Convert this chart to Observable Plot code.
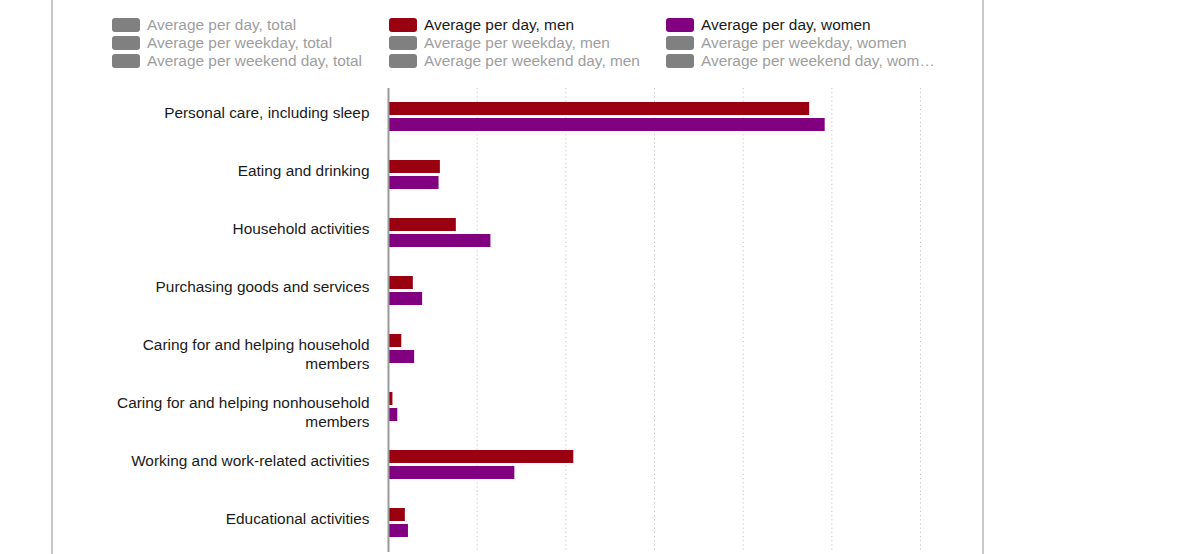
<!DOCTYPE html>
<html>
<head>
<meta charset="utf-8">
<script src="https://cdn.jsdelivr.net/npm/d3@7"></script>
<script src="https://cdn.jsdelivr.net/npm/@observablehq/plot@0.6"></script>
<style>
  html, body { margin: 0; padding: 0; background: #fff; }
  #wrap { position: relative; width: 1200px; height: 554px; overflow: hidden; font-family: Arial, "Liberation Sans", sans-serif; }
  #frame { position: absolute; left: 51px; top: 0; width: 929px; height: 554px; border-left: 2px solid #c8c8c8; border-right: 2px solid #c8c8c8; pointer-events: none; }
  #legend { position: relative; width: 1200px; height: 82px; }
  .item { position: absolute; display: flex; align-items: center; height: 18px; font-size: 15.4px; white-space: nowrap; }
  .sw { width: 28px; height: 14px; border-radius: 3px; margin-right: 7px; flex: none; }
  #chart { position: relative; }
</style>
</head>
<body>
<div id="wrap">
  <div id="frame"></div>
  <div id="legend"></div>
  <div id="chart"></div>
</div>
<script>
// ---- data ----
const categories = [
  "Personal care, including sleep",
  "Eating and drinking",
  "Household activities",
  "Purchasing goods and services",
  "Caring for and helping household members",
  "Caring for and helping nonhousehold members",
  "Working and work-related activities",
  "Educational activities"
];
const series = ["Average per day, men", "Average per day, women"];
const menHours   = [9.50, 1.17, 1.53, 0.56, 0.30, 0.10, 4.18, 0.38];
const womenHours = [9.85, 1.14, 2.31, 0.77, 0.59, 0.21, 2.85, 0.45];
const seriesColors = ["#990010", "#800080"];
const gridTicks = [2, 4, 6, 8, 10, 12];

const legendLabels = [
  ["Average per day, total", "Average per weekday, total", "Average per weekend day, total"],
  ["Average per day, men", "Average per weekday, men", "Average per weekend day, men"],
  ["Average per day, women", "Average per weekday, women", "Average per weekend day, wom\u2026"]
];
const legendActive = [
  [false, false, false],
  [true, false, false],
  [true, false, false]
];
const legendColors = ["#808080", "#990010", "#800080"];

// ---- legend ----
const legendCols = [112, 389, 666];
const legendRowTop = 16, legendRowStep = 18;
const legend = document.getElementById("legend");
legendLabels.forEach((col, ci) => {
  col.forEach((label, ri) => {
    const active = legendActive[ci][ri];
    const it = document.createElement("div");
    it.className = "item";
    it.style.left = legendCols[ci] + "px";
    it.style.top = (legendRowTop + ri * legendRowStep) + "px";
    const sw = document.createElement("div");
    sw.className = "sw";
    sw.style.background = active ? legendColors[ci] : "#808080";
    const tx = document.createElement("span");
    tx.textContent = label;
    tx.style.color = active ? "#1a1a1a" : "#9e9e9e";
    it.appendChild(sw);
    it.appendChild(tx);
    legend.appendChild(it);
  });
});

// ---- chart ----
const rows = [];
categories.forEach((c, i) => {
  rows.push({category: c, series: series[0], value: menHours[i]});
  rows.push({category: c, series: series[1], value: womenHours[i]});
});

const chart = Plot.plot({
  width: 1200,
  height: 472,
  marginLeft: 388,
  marginRight: 280,
  marginTop: 6,
  marginBottom: 2,
  style: {fontFamily: "Arial, 'Liberation Sans', sans-serif", fontSize: "15.4px", color: "#1a1a1a", background: "transparent"},
  x: {domain: [0, 12], axis: null},
  fy: {domain: categories, padding: 0, label: null},
  y: {domain: series, paddingInner: 0.157, paddingOuter: 0.826, axis: null},
  color: {domain: series, range: seriesColors},
  marks: [
    Plot.gridX(gridTicks, {stroke: "#c4c4c4", strokeOpacity: 1, strokeDasharray: "1.2,3"}),
    Plot.barX(rows, {x: "value", y: "series", fy: "category", fill: "series"}),
    Plot.ruleX([0], {stroke: "#999", strokeWidth: 2}),
    Plot.axisFy({
      anchor: "left", label: null, tickSize: 0, tickPadding: 19,
      fontSize: 15.4, lineWidth: 18, lineAnchor: "top", lineHeight: 1.22, dy: -12.6,
      fill: "#1a1a1a"
    })
  ]
});
document.getElementById("chart").appendChild(chart);
</script>
</body>
</html>
